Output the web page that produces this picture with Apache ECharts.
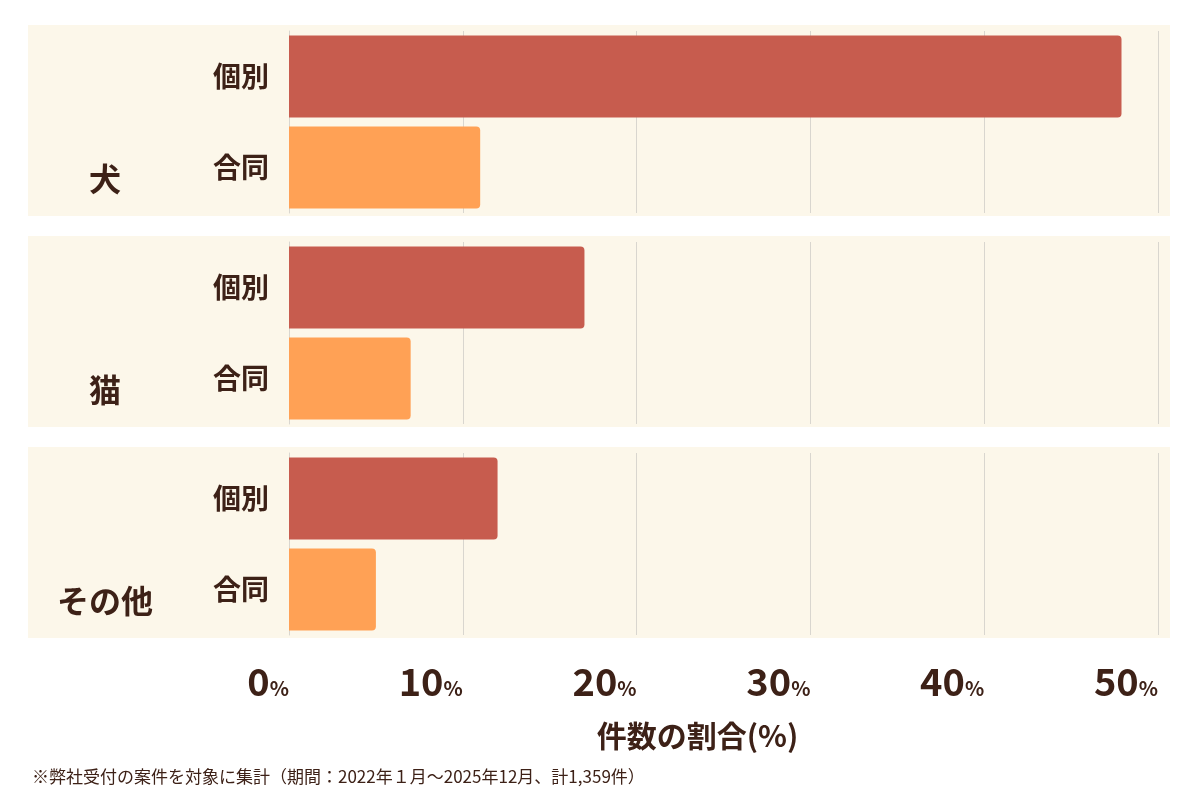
<!DOCTYPE html>
<html>
<head>
<meta charset="utf-8">
<script src="https://cdn.jsdelivr.net/npm/echarts@6/dist/echarts.min.js"></script>
<style>html,body{margin:0;padding:0;background:#fff}#chart{width:1200px;height:800px}</style>
</head>
<body>
<div id="chart"></div>
<script>
// 動物の種類
var animals = ['犬', '猫', 'その他'];
var types = ['個別', '合同'];
// 件数の割合(%)
var kobetsu = [47.9, 17.0, 12.0];
var goudou = [11.0, 7.0, 5.0];
var xTicks = [0, 10, 20, 30, 40, 50];

var font = '"Noto Sans CJK JP", sans-serif';
var brown = '#3d2117';
var tops = [31, 242, 453];
var bandTops = [25, 236, 447];

var chart = echarts.init(document.getElementById('chart'));

var grids = [], xAxes = [], yAxes = [], series = [], graphics = [];
animals.forEach(function (name, i) {
  graphics.push({
    type: 'rect', z: -10,
    shape: { x: 28, y: bandTops[i], width: 1142, height: 191 },
    style: { fill: '#fcf7ea' }
  });
  graphics.push({
    type: 'text', left: 105 - (name.length * 32) / 2, top: bandTops[i] + 138,
    style: { text: name, font: 'bold 32px ' + font, fill: brown }
  });
  grids.push({ left: 289, right: 42, top: tops[i], height: 182 });
  var last = i === animals.length - 1;
  xAxes.push({
    type: 'value', gridIndex: i, min: xTicks[0], max: xTicks[xTicks.length - 1], interval: 10,
    axisLine: { show: false }, axisTick: { show: false },
    splitLine: { lineStyle: { color: '#d9d6cf', width: 1 } },
    axisLabel: {
      show: last, margin: 28, align: 'right',
      formatter: function (v) { return '{n|' + v + '}{p|%}'; },
      rich: {
        n: { fontFamily: font, fontWeight: 'bold', fontSize: 38, color: brown },
        p: { fontFamily: font, fontWeight: 'bold', fontSize: 20, color: brown, padding: [12, 0, 0, 0] }
      }
    },
    name: last ? '件数の割合(%)' : '', nameLocation: 'middle', nameGap: 86,
    nameTextStyle: { fontFamily: font, fontWeight: 'bold', fontSize: 30, color: brown, padding: [0, 52, 0, 0] }
  });
  yAxes.push({
    type: 'category', gridIndex: i, inverse: true, data: types,
    axisLine: { show: true, lineStyle: { color: '#d9d6cf' } }, axisTick: { show: false },
    axisLabel: { margin: 20, fontFamily: font, fontWeight: 'bold', fontSize: 28, color: brown }
  });
  series.push({
    type: 'bar', xAxisIndex: i, yAxisIndex: i, barWidth: 82,
    data: [
      { value: kobetsu[i], itemStyle: { color: '#c75c4e' } },
      { value: goudou[i], itemStyle: { color: '#ffa155' } }
    ],
    itemStyle: { borderRadius: [0, 4, 4, 0] },
    animation: false
  });
});

graphics.push({
  type: 'text', left: 32, top: 768,
  style: { text: '※弊社受付の案件を対象に集計（期間：2022年１月〜2025年12月、計1,359件）', font: '17px ' + font, fill: brown }
});

chart.setOption({
  backgroundColor: '#fff',
  animation: false,
  grid: grids,
  xAxis: xAxes,
  yAxis: yAxes,
  series: series,
  graphic: graphics
});
</script>
</body>
</html>
